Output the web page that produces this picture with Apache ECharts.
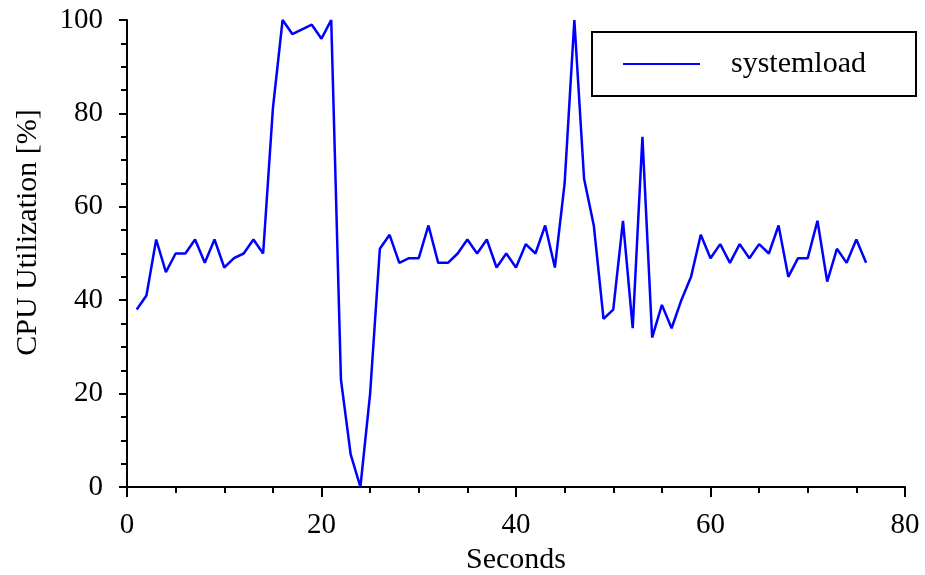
<!DOCTYPE html>
<html>
<head>
<meta charset="utf-8">
<script src="https://cdn.jsdelivr.net/npm/echarts@6/dist/echarts.min.js"></script>
<style>html,body{margin:0;padding:0;background:#fff}#c{width:925px;height:575px}</style>
</head>
<body>
<div id="c"></div>
<script>
const seconds = [1,2,3,4,5,6,7,8,9,10,11,12,13,14,15,16,17,18,19,20,21,22,23,24,25,26,27,28,29,30,31,32,33,34,35,36,37,38,39,40,41,42,43,44,45,46,47,48,49,50,51,52,53,54,55,56,57,58,59,60,61,62,63,64,65,66,67,68,69,70,71,72,73,74,75,76];
const systemload = [38,41,53,46,50,50,53,48,53,47,49,50,53,50,81,100,97,98,99,96,100,23,7,0,20,51,54,48,49,49,56,48,48,50,53,50,53,47,50,47,52,50,56,47,65,100,66,56,36,38,57,34,75,32,39,34,40,45,54,49,52,48,52,49,52,50,56,45,49,49,57,44,51,48,53,48];
const xTicks = [0,20,40,60,80];
const yTicks = [0,20,40,60,80,100];

const font = '"Liberation Serif", "DejaVu Serif", serif';
const chart = echarts.init(document.getElementById('c'), null, {renderer:'canvas'});
chart.setOption({
  animation: false,
  backgroundColor: '#fff',
  grid: {left:127, right:20, top:20, bottom:88, containLabel:false, outerBoundsMode:'none'},
  legend: {
    show: true,
    right: 9, top: 32,
    orient: 'vertical',
    padding: [17, 50, 17, 31],
    itemWidth: 77, itemHeight: 2, itemGap: 0,
    borderColor: '#000', borderWidth: 2, borderRadius: 0,
    textStyle: {fontFamily: font, fontSize: 30, color:'#000', padding:[0,0,0,26]},
    icon: 'rect',
    data: [{name:'systemload', itemStyle:{color:'#0000ff'}}]
  },
  xAxis: {
    type: 'value', min: xTicks[0], max: xTicks[xTicks.length-1], interval: 20,
    name: 'Seconds', nameLocation: 'middle', nameGap: 55,
    nameTextStyle: {fontFamily: font, fontSize: 30, color:'#000'},
    axisLine: {onZero:false, lineStyle:{color:'#000', width:2}},
    axisTick: {show:true, inside:false, length:10, lineStyle:{color:'#000', width:2}},
    minorTick: {show:true, splitNumber:4, length:6, lineStyle:{color:'#000', width:2}},
    axisLabel: {fontFamily: font, fontSize: 29, color:'#000', margin: 24},
    splitLine: {show:false}
  },
  yAxis: {
    type: 'value', min: yTicks[0], max: yTicks[yTicks.length-1], interval: 20,
    name: 'CPU Utilization [%]', nameLocation: 'middle', nameGap: 84, nameRotate: 90,
    nameTextStyle: {fontFamily: font, fontSize: 30, color:'#000', padding:[0,0,0,42]},
    axisLine: {onZero:false, lineStyle:{color:'#000', width:2}},
    axisTick: {show:true, inside:false, length:8, lineStyle:{color:'#000', width:2}},
    minorTick: {show:true, splitNumber:4, length:6, lineStyle:{color:'#000', width:2}},
    axisLabel: {fontFamily: font, fontSize: 29, color:'#000', margin: 24},
    splitLine: {show:false}
  },
  series: [{
    name: 'systemload', type: 'line',
    data: seconds.map((s,i)=>[s, systemload[i]]),
    showSymbol: false, symbol: 'none',
    lineStyle: {color:'#0000ff', width:2.5},
    itemStyle: {color:'#0000ff'},
    clip: false
  }]
});
</script>
</body>
</html>
